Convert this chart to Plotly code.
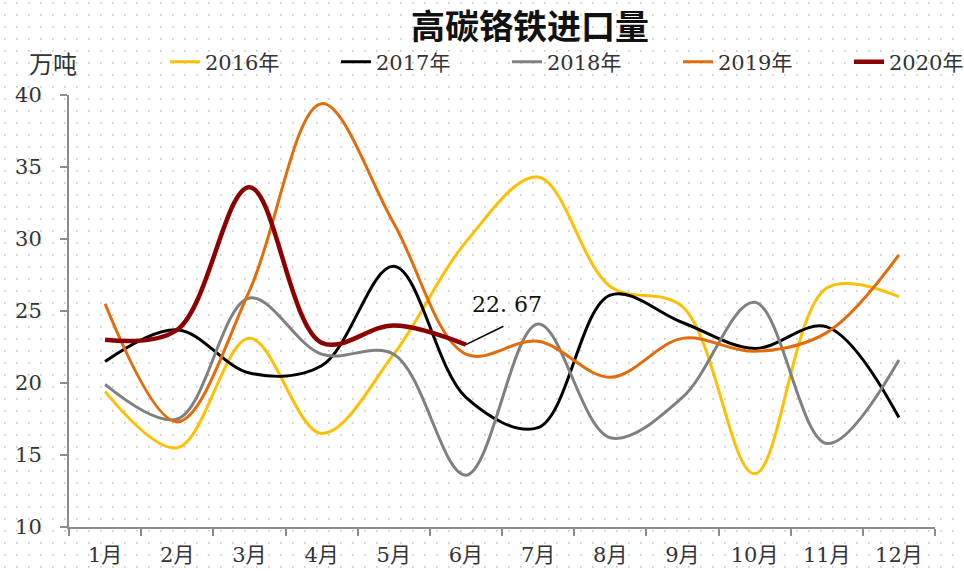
import base64
import plotly.graph_objects as go

months = ["1月", "2月", "3月", "4月", "5月", "6月", "7月", "8月", "9月", "10月", "11月", "12月"]
y2016 = [19.4, 15.5, 23.1, 16.5, 22.0, 29.8, 34.3, 26.7, 25.3, 13.7, 26.6, 26.0]
y2017 = [21.5, 23.7, 20.7, 21.2, 28.1, 19.0, 16.9, 26.1, 24.2, 22.4, 23.9, 17.6]
y2018 = [19.9, 17.5, 25.9, 22.0, 22.0, 13.6, 24.1, 16.2, 19.0, 25.6, 15.8, 21.6]
y2019 = [25.5, 17.3, 26.4, 39.4, 31.1, 22.0, 22.9, 20.4, 23.1, 22.2, 23.5, 28.9]
y2020 = [23.0, 23.7, 33.6, 22.8, 24.0, 22.67]
series_names = ["2016年", "2017年", "2018年", "2019年", "2020年"]
y_ticks = [10, 15, 20, 25, 30, 35, 40]
title_text = "高碳铬铁进口量"
unit_text = "万吨"
last_label = "22. 67"

colors = ["#FFC000", "#000000", "#808080", "#E36C0A", "#8B0000"]
widths = [3, 3, 3, 3, 4.5]

W, H = 964, 571
ML, MR, MT, MB = 69, 29, 95, 44
PW, PH = W - ML - MR, H - MT - MB

FONT = "'DejaVu Serif', 'Noto Sans CJK SC', serif"

fig = go.Figure()
for name, ys, c, w in zip(series_names, [y2016, y2017, y2018, y2019, y2020], colors, widths):
    fig.add_trace(go.Scatter(
        x=months[:len(ys)], y=ys, name=name, mode="lines",
        line=dict(color=c, width=w, shape="spline", smoothing=1.0),
        hoverinfo="skip",
    ))

# dotted background pattern
svg = (
    f'<svg xmlns="http://www.w3.org/2000/svg" width="{W}" height="{H}">'
    '<defs><pattern id="p" x="4" y="2" width="12" height="12" patternUnits="userSpaceOnUse">'
    '<rect x="0" y="0" width="1.7" height="1.7" fill="#c9c9c9"/></pattern></defs>'
    '<rect width="100%" height="100%" fill="url(#p)"/></svg>'
)
src = "data:image/svg+xml;base64," + base64.b64encode(svg.encode()).decode()

fig.update_layout(
    width=W, height=H,
    margin=dict(l=ML, r=MR, t=MT, b=MB, autoexpand=False),
    paper_bgcolor="white",
    plot_bgcolor="rgba(0,0,0,0)",
    images=[dict(
        source=src, xref="paper", yref="paper",
        x=-ML / PW, y=1 + MT / PH, sizex=W / PW, sizey=H / PH,
        xanchor="left", yanchor="top", sizing="stretch", layer="below",
    )],
    title=dict(
        text=f"<b>{title_text}</b>", x=530 / W, xanchor="center", xref="container",
        y=1 - 27 / H, yanchor="middle", yref="container",
        font=dict(family="'Noto Sans CJK SC', serif", size=34, color="#111111"),
    ),
    legend=dict(
        orientation="h", xref="paper", yref="paper",
        x=(165 - ML) / PW, xanchor="left", y=1 + (MT - 62) / PH, yanchor="middle",
        font=dict(family=FONT, size=21, color="#333333"),
        entrywidth=126, entrywidthmode="pixels",
        bgcolor="rgba(0,0,0,0)", itemclick=False, itemdoubleclick=False,
    ),
    xaxis=dict(
        type="category", range=[-0.5, 11.5], automargin=False,
        showline=True, linecolor="#8c8c8c", linewidth=2,
        ticks="outside", tickson="boundaries", ticklen=7, tickwidth=2, tickcolor="#8c8c8c",
        showgrid=False, zeroline=False, fixedrange=True,
        tickfont=dict(family=FONT, size=21, color="#333333"),
        ticklabelstandoff=8,
    ),
    yaxis=dict(
        range=[10, 40], tickvals=y_ticks, automargin=False,
        showline=True, linecolor="#8c8c8c", linewidth=2,
        ticks="outside", ticklen=7, tickwidth=2, tickcolor="#8c8c8c",
        showgrid=False, zeroline=False, fixedrange=True,
        tickfont=dict(family=FONT, size=21, color="#333333"),
        ticklabelstandoff=14,
    ),
    annotations=[
        dict(text=unit_text, xref="paper", yref="paper", x=-(ML - 53) / PW, y=1 + (MT - 62) / PH,
             xanchor="center", yanchor="middle", showarrow=False,
             font=dict(family="'Noto Sans CJK SC', serif", size=24, color="#333333")),
        dict(text="", x=months[len(y2020) - 1], y=y2020[-1], xref="x", yref="y",
             showarrow=True, arrowhead=0, arrowwidth=1.5, arrowcolor="#000000",
             ax=39, ay=-19, standoff=0),
        dict(text=last_label, x=months[len(y2020) - 1], y=y2020[-1], xref="x", yref="y",
             showarrow=False, xshift=41, yshift=40, xanchor="center", yanchor="middle",
             font=dict(family=FONT, size=22, color="#111111")),
    ],
)

fig.write_html(
    "out.html",
    config={"displayModeBar": False, "staticPlot": True},
    post_script="document.body.style.margin='0px';document.body.style.overflow='hidden';",
)
